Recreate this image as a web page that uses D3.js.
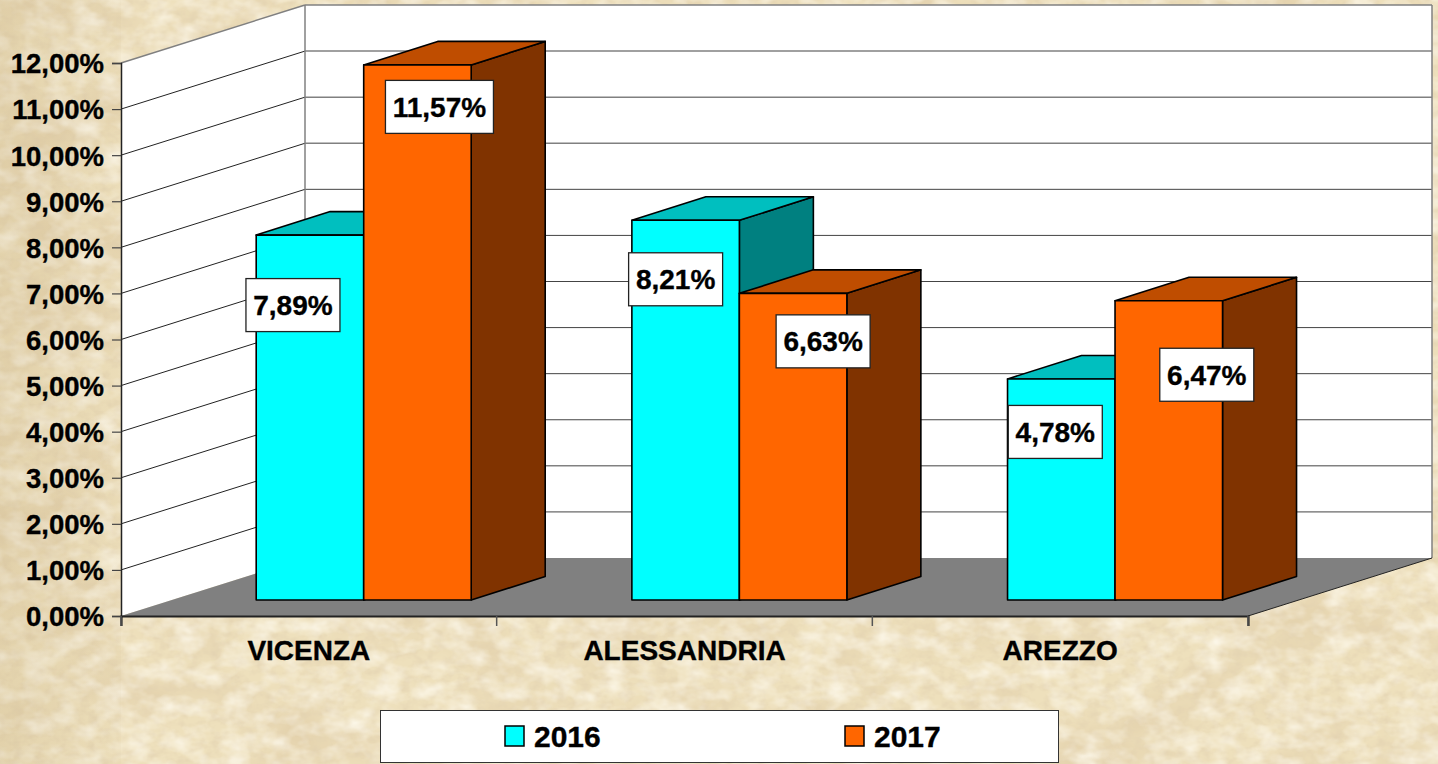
<!DOCTYPE html>
<html><head><meta charset="utf-8">
<script src="https://cdn.jsdelivr.net/npm/d3@7"></script>
<style>html,body{margin:0;padding:0;background:#ecdfbb;overflow:hidden}svg{display:block}text{font-family:"Liberation Sans",Arial,sans-serif;font-weight:700;fill:#000}</style>
</head><body><svg id="c" width="1438" height="764"></svg>
<script>
const categories = ["VICENZA","ALESSANDRIA","AREZZO"];
const years = ["2016","2017"];
const values2016 = [7.89,8.21,4.78];
const values2017 = [11.57,6.63,6.47];
const yTicks = [0,1,2,3,4,5,6,7,8,9,10,11,12];
const fmt = v => v.toFixed(2).replace(".",",")+"%";

const W=1438,H=764;
const svg=d3.select("#c");
const defs=svg.append("defs");
function paper(id,freq,oct,seed,rgb,gain,bias){
  const f=defs.append("filter").attr("id",id).attr("x",0).attr("y",0).attr("width","100%").attr("height","100%");
  f.append("feTurbulence").attr("type","fractalNoise").attr("baseFrequency",freq).attr("numOctaves",oct).attr("seed",seed);
  f.append("feColorMatrix").attr("type","matrix").attr("values",`0 0 0 0 ${rgb[0]}  0 0 0 0 ${rgb[1]}  0 0 0 0 ${rgb[2]}  ${gain} 0 0 0 ${bias}`);
}
paper("paperA","0.009 0.014",4,7,[0.74,0.60,0.38],1.7,-0.70);
paper("paperB","0.09 0.12",3,19,[0.76,0.64,0.44],1.5,-0.62);
paper("paperC","0.04 0.06",3,31,[1,0.97,0.88],1.5,-0.58);
svg.append("rect").attr("width",W).attr("height",H).attr("fill","#eee0bc");
["paperA","paperB","paperC"].forEach(id=>svg.append("rect").attr("width",W).attr("height",H).attr("filter",`url(#${id})`));
const lg=defs.append("linearGradient").attr("id","edge");
lg.append("stop").attr("offset",0).attr("stop-color","#b89f6e").attr("stop-opacity",.2);
lg.append("stop").attr("offset",1).attr("stop-color","#b89f6e").attr("stop-opacity",.05);
svg.append("rect").attr("width",121).attr("height",H).attr("fill","url(#edge)");

// projection
const y=d3.scaleLinear().domain([0,12]).range([616,63]);
const yBar=d3.scaleLinear().domain([0,12]).range([600,45]);
const x=d3.scaleBand().domain(categories).range([121,1248]);
const dx=184,dy=-58, bdx=74, bdy=-23.5;
const inner=d3.scaleBand().domain(years).range([135.2,350.2]);
const poly=p=>p.map(a=>a.join(",")).join(" ");

const x0=x.range()[0],x1=x.range()[1];
// walls
svg.append("polygon").attr("points",poly([[x0,y(0)],[x0+dx,y(0)+dy],[x0+dx,y(12)+dy],[x0,y(12)]])).attr("fill","#fff");
svg.append("polygon").attr("points",poly([[x0+dx,y(0)+dy],[x1+dx,y(0)+dy],[x1+dx,y(12)+dy],[x0+dx,y(12)+dy]])).attr("fill","#fff");
// floor
svg.append("polygon").attr("points",poly([[x0,y(0)],[x1,y(0)],[x1+dx,y(0)+dy],[x0+dx,y(0)+dy]])).attr("fill","#808080");
// gridlines
const grid=svg.append("g");
yTicks.forEach(t=>{
  const gy=y(t);
  if(t>0&&t<12) grid.append("line").attr("x1",x0).attr("y1",gy).attr("x2",x0+dx).attr("y2",gy+dy).attr("stroke","#222").attr("stroke-width",1);
  if(t>0) grid.append("line").attr("x1",x0+dx).attr("y1",gy+dy).attr("x2",x1+dx).attr("y2",gy+dy).attr("stroke",t>=9?"#808080":"#444").attr("stroke-width",t>=9?1.5:1);
});
grid.append("line").attr("x1",x0).attr("y1",y(12)).attr("x2",x0+dx).attr("y2",y(12)+dy).attr("stroke","#808080").attr("stroke-width",1.5);
grid.append("line").attr("x1",x0+dx).attr("y1",y(12)+dy).attr("x2",x0+dx).attr("y2",y(0)+dy).attr("stroke","#808080").attr("stroke-width",1.5);
grid.append("line").attr("x1",x1+dx).attr("y1",y(12)+dy).attr("x2",x1+dx).attr("y2",y(0)+dy).attr("stroke","#808080").attr("stroke-width",1.5);
grid.append("line").attr("x1",x1).attr("y1",y(0)).attr("x2",x1+dx).attr("y2",y(0)+dy).attr("stroke","#222").attr("stroke-width",1);

const heavy=s=>s.style("font-family",'"Liberation Sans",Arial,sans-serif').style("font-weight",700).attr("stroke","#000").attr("stroke-width",0.35).attr("fill","#000");
// axes
const yAxis=svg.append("g").attr("transform",`translate(${x0},0)`).call(d3.axisLeft(y).tickValues(yTicks).tickFormat(fmt).tickSize(9).tickPadding(8));
yAxis.select(".domain").attr("stroke","#222").attr("stroke-width",1.5);
yAxis.selectAll(".tick line").attr("stroke","#444").attr("stroke-width",1.2);
yAxis.selectAll("text").attr("font-size",27.5).call(heavy).attr("dy","0.36em");
const xAxis=svg.append("g").attr("transform",`translate(0,${y(0)})`).call(d3.axisBottom(x).tickSize(10).tickPadding(12).tickSizeOuter(10));
xAxis.selectAll(".tick line").remove();
xAxis.select(".domain").attr("stroke","#222").attr("stroke-width",2.2);
[x0,...categories.map(c=>x(c)+x.bandwidth())].forEach(t=>xAxis.append("line").attr("x1",t).attr("x2",t).attr("y1",0).attr("y2",10).attr("stroke","#555").attr("stroke-width",1.5));
xAxis.selectAll(".tick text").attr("font-size",28).attr("y",24).attr("dy","0.71em").call(heavy);

// bars
const series=[
 {name:"2016",vals:values2016,front:"#00ffff",top:"#00bfbf",side:"#008080"},
 {name:"2017",vals:values2017,front:"#ff6600",top:"#bf4d00",side:"#803300"}];
const barsG=svg.append("g").attr("stroke","#000").attr("stroke-width",1.6).attr("stroke-linejoin","round");
categories.forEach((c,ci)=>{
  series.forEach(s=>{
    const l=x(c)+inner(s.name), r=l+inner.bandwidth(), t=yBar(s.vals[ci]), b=yBar(0);
    barsG.append("polygon").attr("points",poly([[r,b],[r+bdx,b+bdy],[r+bdx,t+bdy],[r,t]])).attr("fill",s.side);
    barsG.append("polygon").attr("points",poly([[l,t],[r,t],[r+bdx,t+bdy],[l+bdx,t+bdy]])).attr("fill",s.top);
    barsG.append("rect").attr("x",l).attr("y",t).attr("width",r-l).attr("height",b-t).attr("fill",s.front);
  });
});
// data labels: offset of box centre from the bar's top-centre
const labelOffset=[[[-17,70],[22,42]],[[-10,59],[30,48]],[[-6,53],[38,74]]];
categories.forEach((c,ci)=>{
  series.forEach((s,si)=>{
    const cx=x(c)+inner(s.name)+inner.bandwidth()/2+labelOffset[ci][si][0];
    const cy=yBar(s.vals[ci])+labelOffset[ci][si][1];
    const bw=s.vals[ci]>=10?108:94;
    svg.append("rect").attr("x",cx-bw/2).attr("y",cy-26.5).attr("width",bw).attr("height",53).attr("fill","#fff").attr("stroke","#222").attr("stroke-width",1.3);
    svg.append("text").attr("x",cx).attr("y",cy+10).attr("text-anchor","middle").attr("font-size",28).call(heavy).text(fmt(s.vals[ci]));
  });
});
// legend
svg.append("rect").attr("x",380.5).attr("y",710.5).attr("width",678).attr("height",52).attr("fill","#fff").attr("stroke","#333").attr("stroke-width",1);
const legendX=d3.scalePoint().domain(years).range([505,845]);
series.forEach(s=>{
  const lx=legendX(s.name);
  svg.append("rect").attr("x",lx).attr("y",726).attr("width",19).attr("height",20).attr("fill",s.front).attr("stroke","#000").attr("stroke-width",1.5);
  svg.append("text").attr("x",lx+29).attr("y",747).attr("font-size",30).call(heavy).text(s.name);
});
</script></body></html>
